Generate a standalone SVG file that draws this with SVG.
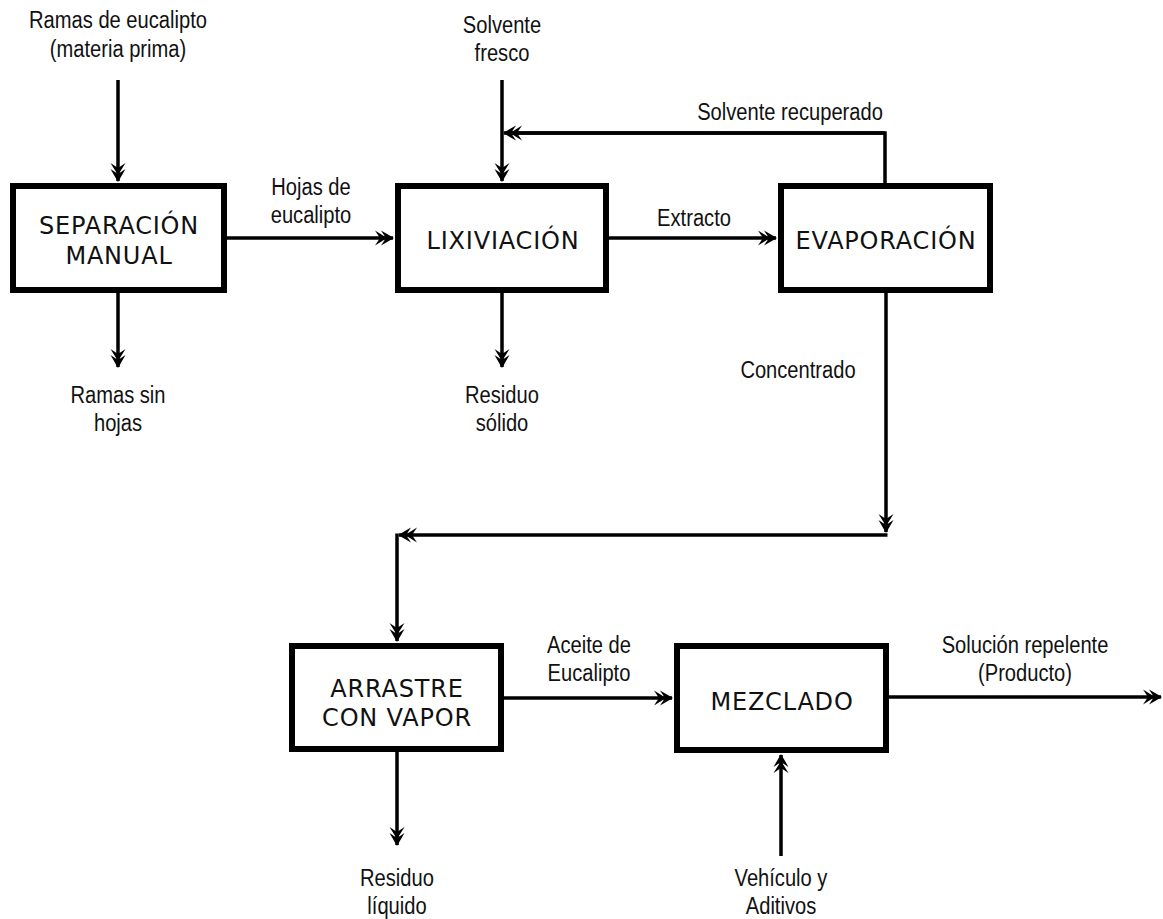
<svg xmlns="http://www.w3.org/2000/svg" width="1163" height="919" viewBox="0 0 1163 919">
<style>
.box{fill:#fff;stroke:#000;stroke-width:6}
.bl{font-family:"DejaVu Sans","Verdana",sans-serif;font-size:24px;letter-spacing:0.8px;text-anchor:middle;fill:#111}
.lb{font-family:"Liberation Sans","Arial",sans-serif;font-size:23px;text-anchor:middle;fill:#111}
.c{fill:none;stroke:#000;stroke-width:3.5}
.a{marker-end:url(#ah)}
</style>
<defs>
<marker id="ah" markerUnits="userSpaceOnUse" viewBox="-22 -10 24 20" markerWidth="24" markerHeight="20" refX="0" refY="0" orient="auto" overflow="visible">
<path d="M1,0 L-12,-7.5 L-7,0 L-12,7.5 Z M-6,0 L-18,-7.5 L-13,0 L-18,7.5 Z" fill="#000"/>
</marker>
</defs>
<rect width="1163" height="919" fill="#fff"/>
<g id="connectors">
<path class="c a" d="M118,80 V181"/>
<path class="c a" d="M227,238 H393"/>
<path class="c a" d="M118,293 V367"/>
<path class="c a" d="M502,80 V181"/>
<path class="c" d="M885,183 V133 H510"/>
<path class="c a" d="M885,133 H504"/>
<path class="c a" d="M609,238 H776"/>
<path class="c a" d="M502,293 V367"/>
<path class="c a" d="M886,293 V532"/>
<path class="c a" d="M887.5,535 H399"/>
<path class="c a" d="M397,533.5 V641"/>
<path class="c a" d="M504,698 H672"/>
<path class="c a" d="M397,752 V845"/>
<path class="c a" d="M889,697 H1161"/>
<path class="c a" d="M781,856 V755"/>
</g>
<g id="separacion">
<rect class="box" x="13" y="186" width="211" height="104"/>
<text class="bl" x="119" y="234">SEPARACIÓN</text>
<text class="bl" x="119" y="264">MANUAL</text>
</g>
<g id="lixiviacion">
<rect class="box" x="398" y="186" width="208" height="104"/>
<text class="bl" x="503" y="249">LIXIVIACIÓN</text>
</g>
<g id="evaporacion">
<rect class="box" x="781" y="186" width="209" height="104"/>
<text class="bl" x="886" y="249">EVAPORACIÓN</text>
</g>
<g id="arrastre">
<rect class="box" x="292" y="646" width="209" height="103"/>
<text class="bl" x="397" y="697">ARRASTRE</text>
<text class="bl" x="397" y="726">CON VAPOR</text>
</g>
<g id="mezclado">
<rect class="box" x="677" y="646" width="209" height="104"/>
<text class="bl" x="782" y="710">MEZCLADO</text>
</g>
<g id="labels">
<text class="lb" transform="translate(118 28) scale(0.875 1)">Ramas de eucalipto</text>
<text class="lb" transform="translate(118 57) scale(0.875 1)">(materia prima)</text>
<text class="lb" transform="translate(502 33) scale(0.875 1)">Solvente</text>
<text class="lb" transform="translate(502 61) scale(0.875 1)">fresco</text>
<text class="lb" transform="translate(790 120) scale(0.875 1)">Solvente recuperado</text>
<text class="lb" transform="translate(311 195) scale(0.875 1)">Hojas de</text>
<text class="lb" transform="translate(311 223) scale(0.875 1)">eucalipto</text>
<text class="lb" transform="translate(694 226) scale(0.875 1)">Extracto</text>
<text class="lb" transform="translate(118 403) scale(0.875 1)">Ramas sin</text>
<text class="lb" transform="translate(118 431) scale(0.875 1)">hojas</text>
<text class="lb" transform="translate(502 403) scale(0.875 1)">Residuo</text>
<text class="lb" transform="translate(502 431) scale(0.875 1)">sólido</text>
<text class="lb" transform="translate(798 378) scale(0.875 1)">Concentrado</text>
<text class="lb" transform="translate(589 653) scale(0.875 1)">Aceite de</text>
<text class="lb" transform="translate(589 681) scale(0.875 1)">Eucalipto</text>
<text class="lb" transform="translate(1025 653) scale(0.875 1)">Solución repelente</text>
<text class="lb" transform="translate(1025 681) scale(0.875 1)">(Producto)</text>
<text class="lb" transform="translate(397 886) scale(0.875 1)">Residuo</text>
<text class="lb" transform="translate(397 914) scale(0.875 1)">líquido</text>
<text class="lb" transform="translate(781 886) scale(0.875 1)">Vehículo y</text>
<text class="lb" transform="translate(781 914) scale(0.875 1)">Aditivos</text>
</g>
</svg>
